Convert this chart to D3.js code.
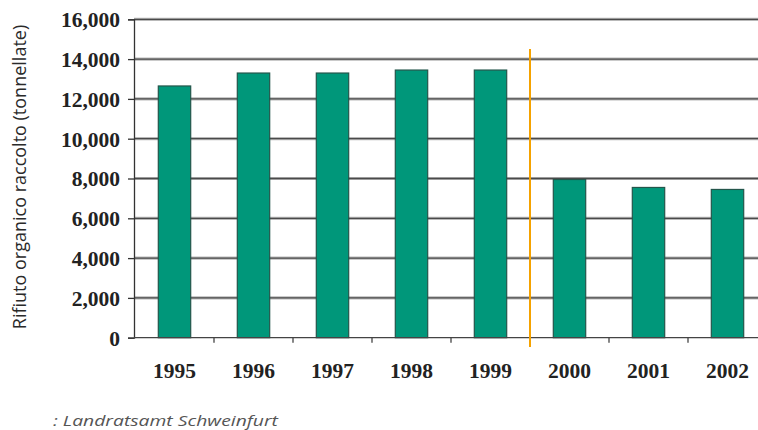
<!DOCTYPE html>
<html><head><meta charset="utf-8">
<script src="https://cdn.jsdelivr.net/npm/d3@7"></script>
<style>
html,body{margin:0;padding:0;background:#fff;}
svg{display:block;}
</style></head>
<body>
<svg id="chart" width="758" height="430"></svg>
<script>
const years = ["1995","1996","1997","1998","1999","2000","2001","2002"];
const tonnes = [12650, 13300, 13300, 13450, 13450, 7950, 7550, 7450];
const yTicks = [0, 2000, 4000, 6000, 8000, 10000, 12000, 14000, 16000];
const yTitle = "Rifiuto organico raccolto (tonnellate)";
const sourceText = ": Landratsamt Schweinfurt";
const dividerAfter = "1999";

const svg = d3.select("#chart");
const x = d3.scaleBand().domain(years).range([135, 767]).paddingInner(0.59).paddingOuter(0.295);
const y = d3.scaleLinear().domain([0, 16000]).range([337.7, 19.3]);

// gridlines
const grid = svg.append("g");
grid.selectAll("line.h").data(yTicks.filter(d => d > 0)).join("line")
  .attr("x1", 134).attr("x2", 758)
  .attr("y1", d => y(d)).attr("y2", d => y(d))
  .attr("stroke", "#b9b9b9").attr("stroke-width", 3.2);
grid.selectAll("line.c").data(yTicks.filter(d => d > 0)).join("line")
  .attr("x1", 134).attr("x2", 758)
  .attr("y1", d => y(d)).attr("y2", d => y(d))
  .attr("stroke", "#4a4a4a").attr("stroke-width", 1.3);

// bars
svg.append("g").selectAll("rect").data(years).join("rect")
  .attr("x", d => x(d)).attr("width", x.bandwidth())
  .attr("y", (d, i) => y(tonnes[i]))
  .attr("height", (d, i) => y(0) - y(tonnes[i]))
  .attr("fill", "#00977a").attr("stroke", "#24564b").attr("stroke-width", 1.2);

// y axis
const yAxis = d3.axisLeft(y).tickValues(yTicks).tickSize(6).tickPadding(8)
  .tickFormat(d3.format(","));
const ya = svg.append("g").attr("transform", "translate(134,0)").call(yAxis);
ya.select(".domain").attr("stroke", "#333").attr("stroke-width", 1.3);
ya.selectAll(".tick line").attr("stroke", "#333").attr("stroke-width", 1.3);
ya.selectAll(".tick text").attr("font-family", "'Liberation Serif', serif")
  .attr("font-weight", "bold").attr("font-size", 21.5).attr("fill", "#222").attr("dy", "0.34em");

// x axis
const xa = svg.append("g").attr("transform", `translate(0,${y(0)})`);
xa.append("line").attr("x1", 134).attr("x2", 758).attr("y1", 0).attr("y2", 0)
  .attr("stroke", "#444").attr("stroke-width", 1.3);
const step = x.step();
xa.selectAll("line.t").data(years.slice(1)).join("line")
  .attr("x1", d => x(d) - x.paddingInner() * step / 2)
  .attr("x2", d => x(d) - x.paddingInner() * step / 2)
  .attr("y1", 0).attr("y2", 5).attr("stroke", "#444").attr("stroke-width", 1.3);
xa.selectAll("text").data(years).join("text")
  .attr("x", d => x(d) + x.bandwidth() / 2).attr("y", 40)
  .attr("text-anchor", "middle")
  .attr("font-family", "'Liberation Serif', serif").attr("font-weight", "bold")
  .attr("font-size", 21.5).attr("fill", "#222").text(d => d);

// divider line
const divX = x(dividerAfter) + x.bandwidth() + x.paddingInner() * step / 2;
svg.append("line").attr("x1", divX).attr("x2", divX).attr("y1", 49).attr("y2", 347)
  .attr("stroke", "#f5a200").attr("stroke-width", 2);

// y title
svg.append("text").attr("transform", "translate(26,177) rotate(-90)")
  .attr("text-anchor", "middle").attr("font-family", "'Open Sans', sans-serif")
  .attr("font-size", 18).attr("fill", "#2a2a2a").text(yTitle);

// source
svg.append("text").attr("x", 53).attr("y", 426)
  .attr("font-family", "'Open Sans', sans-serif").attr("font-style", "italic")
  .attr("font-size", 15).attr("fill", "#555")
  .attr("textLength", 225).attr("lengthAdjust", "spacingAndGlyphs").text(sourceText);
</script>
</body></html>
